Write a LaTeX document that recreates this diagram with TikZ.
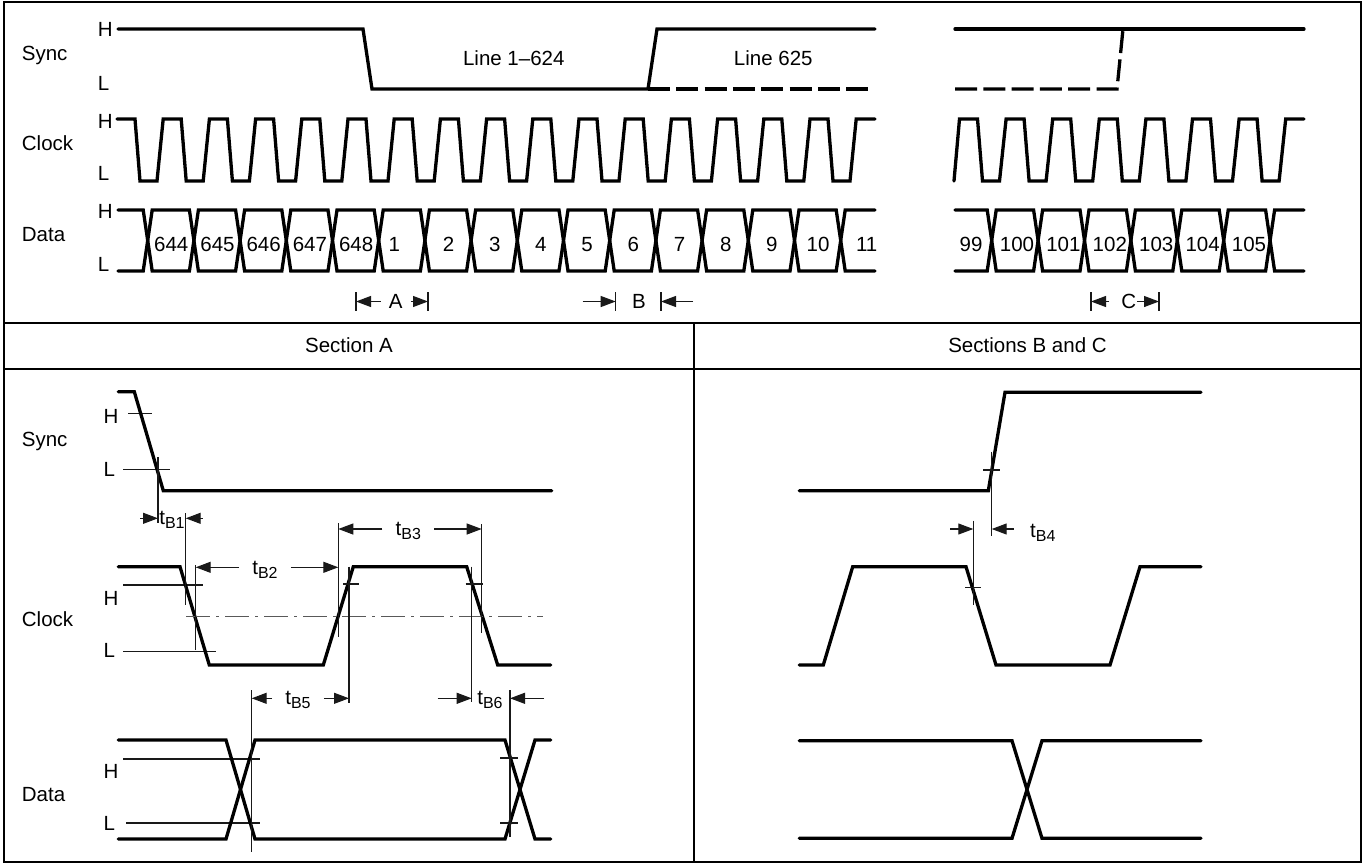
\documentclass[tikz,border=0pt]{standalone}
\usepackage{fontspec}
\setmainfont{Liberation Sans}
\usetikzlibrary{arrows.meta}
\newcommand{\tsub}[1]{t\raisebox{-0.32ex}{\fontsize{16}{18}\selectfont #1}}

\begin{document}
\begin{tikzpicture}[
    x=1pt, y=-1pt,
    wave/.style={line width=3.3pt, line join=miter, line cap=round},
    wavedash/.style={line width=3.3pt, line join=miter, dash pattern=on 22pt off 6.3pt},
    thin/.style={line width=1.1pt, black!90},
    frame/.style={line width=2.2pt},
    lbl/.style={font=\fontsize{20.5}{24}\selectfont, inner sep=0pt},
    dimtxt/.style={lbl, inner xsep=13pt},
    dim/.style={thin, -{Triangle[length=15pt, width=11pt]}},
    midline/.style={line width=1pt, black!65, dash pattern=on 24pt off 6pt on 3pt off 6pt},
]
    \useasboundingbox (0,0) rectangle (1363,863);
    % frame and table rules
    \draw[frame] (4,2) rectangle (1361,862);
    \draw[frame] (4,323) -- (1361,323);
    \draw[frame] (4,369) -- (1361,369);
    \draw[frame] (694,323) -- (694,862);
    \node[lbl, anchor=base] (hdA) at (349,352.5) {Section A};
    \node[lbl, anchor=base] (hdBC) at (1027.5,352.5) {Sections B and C};

    % overview: names and levels
    \foreach \sig/\y/\yh/\yl in {Sync/60/36/90, Clock/150/128.3/180, Data/241.7/218.3/271.7} {
        \node[lbl, anchor=base west] (top\sig) at (21.7,\y) {\sig};
        \node[lbl, anchor=base west] (top\sig H) at (97.7,\yh) {H};
        \node[lbl, anchor=base west] (top\sig L) at (97.7,\yl) {L};
    }

    % overview: sync
    \draw[wave] (118,29) -- (363,29) -- (372,89) -- (648,89) -- (657,29) -- (875,29);
    \draw[wavedash] (648,89) -- (868,89);
    \node[lbl, anchor=base] (line1) at (513.8,65) {Line 1--624};
    \node[lbl, anchor=base] (line625) at (773.3,65) {Line 625};
    \draw[wave] (955,29) -- (1304,29);
    \draw[wavedash] (955,89) -- (1117,89) -- (1123,29);

    % overview: clock
    \draw[wave] (117,119) \foreach \k in {0,...,15} { -- ++(18,0) -- ++(5,62) -- ++(17,0) -- ++(6.2,-62) } -- (875,119);
    \draw[wave] (954,181) -- (959.5,119) \foreach \k in {0,...,6} { -- ++(18,0) -- ++(5,62) -- ++(17,0) -- ++(6.6,-62) } -- (1304,119);

    % overview: data
    \foreach \ya/\yb in {210/271, 271/210} {
        \draw[wave] (118,\ya) \foreach \k in {0,2,...,14} { -- (143.2+46.2*\k,\ya) -- (152.2+46.2*\k,\yb) -- (189.4+46.2*\k,\yb) -- (198.4+46.2*\k,\ya) } -- (875,\ya);
        \draw[wave] (955,\ya) \foreach \k in {0,2,4} { -- (987.2+46.4*\k,\ya) -- (996.2+46.4*\k,\yb) -- (1033.6+46.4*\k,\yb) -- (1042.6+46.4*\k,\ya) } -- (1265.6,\ya) -- (1274.6,\yb) -- (1304,\yb);
    }
    \foreach \t/\dx [count=\i from 0] in {644/0,645/0,646/0,647/0,648/0,1/-8,2/0,3/0,4/0,5/0,6/0,7/0,8/0,9/0,10/0}
        \node[lbl, anchor=base] (cell\i) at (171.3+46.2*\i+\dx,251.5) {\t};
    \node[lbl, anchor=base] (cell15) at (866.7,251.5) {11};
    \node[lbl, anchor=base] (cell99) at (971,251.5) {99};
    \foreach \t [count=\i from 0] in {100,...,105}
        \node[lbl, anchor=base] (cellr\i) at (1017+46.4*\i,251.5) {\t};

    % section markers
    \foreach \x/\nm in {356/aL, 428/aR, 615.7/bL, 661/bR, 1091/cL, 1159/cR} {
        \coordinate (\nm) at (\x,301.5);
        \draw[thin] (\x,292) -- (\x,311);
    }
    \node[lbl] (mA) at (395.8,301.5) {A};
    \node[lbl] (mB) at (639,301.5) {B};
    \node[lbl] (mC) at (1128.7,301.5) {C};
    \draw[dim] ([xshift=-8pt]mA.west) -- (aL);
    \draw[dim] ([xshift=8pt]mA.east) -- (aR);
    \draw[dim] ([xshift=-33pt]bL) -- (bL);
    \draw[dim] ([xshift=32pt]bR) -- (bR);
    \draw[dim] ([xshift=-12pt]mC.west) -- (cL);
    \draw[dim] ([xshift=1pt]mC.east) -- (cR);

    % section A: names and levels
    \foreach \sig/\y/\yh/\yl in {Sync/446.7/423.3/476, Clock/626.7/605/657.3, Data/801.7/778.3/830.7} {
        \node[lbl, anchor=base west] (a\sig) at (21.7,\y) {\sig};
        \node[lbl, anchor=base west] (a\sig H) at (103.3,\yh) {H};
        \node[lbl, anchor=base west] (a\sig L) at (103.3,\yl) {L};
    }
    \draw[thin] (128,413.3) -- (152,413.3);
    \draw[thin] (123,469.3) -- (170,469.3);
    \draw[thin] (123,585) -- (203,585);
    \draw[thin] (123,651.7) -- (216,651.7);
    \draw[thin] (123,759) -- (260,759);
    \draw[thin] (126,823) -- (260,823);

    % section A: waves
    \draw[wave] (118.3,391.7) -- (134.3,391.7) -- (163.3,490.7) -- (551.7,490.7);
    \draw[wave] (118.3,566.7) -- (180,566.7) -- (209.3,665) -- (323.3,665) -- (353.3,566.7)
        -- (466.7,566.7) -- (497.7,665) -- (550.7,665);
    \draw[wave] (118.3,740) -- (226,740) -- (255,839) -- (505,839) -- (535,740) -- (550.7,740);
    \draw[wave] (118.3,839) -- (226,839) -- (255,740) -- (505,740) -- (535,839) -- (550.7,839);
    \draw[midline] (186,616) -- (543.3,616);

    % section A: reference lines
    \draw[thin] (158,457) -- (158,523);
    \draw[thin] (185.7,513) -- (185.7,605);
    \draw[thin] (195.7,565) -- (195.7,650);
    \draw[thin] (338.3,523) -- (338.3,636.7);
    \draw[thin] (481.7,524) -- (481.7,633.3);
    \draw[thin] (349,566.7) -- (349,703);
    \draw[thin] (343.3,584) -- (359.3,584);
    \draw[thin] (471.7,566.7) -- (471.7,702);
    \draw[thin] (465.7,584) -- (482.7,584);
    \draw[thin] (251.7,690) -- (251.7,851.7);
    \draw[thin] (510,690) -- (510,836.7);
    \draw[thin] (500,758) -- (518.3,758);
    \draw[thin] (500,823) -- (518.3,823);

    % section A: timings
    \coordinate (b1l) at (158,518.3);
    \coordinate (b1r) at (185.7,518.3);
    \coordinate (b2l) at (195.7,567.3);
    \coordinate (b2r) at (338.3,567.3);
    \coordinate (b3l) at (338.3,529);
    \coordinate (b3r) at (481.7,529);
    \coordinate (b5l) at (251.7,698.3);
    \coordinate (b5r) at (349,698.3);
    \coordinate (b6l) at (471.7,698.3);
    \coordinate (b6r) at (510,698.3);
    \node[lbl] (tb1) at (172,520) {\tsub{B1}};
    \node[dimtxt] (tb2) at (265,570) {\tsub{B2}};
    \node[dimtxt] (tb3) at (408.3,531) {\tsub{B3}};
    \node[dimtxt] (tb5) at (298,700) {\tsub{B5}};
    \node[lbl] (tb6) at (490,700) {\tsub{B6}};
    \draw[dim] ([xshift=-18pt]b1l) -- (b1l);
    \draw[dim] ([xshift=17pt]b1r) -- (b1r);
    \draw[dim] (tb2.west |- b2l) -- (b2l);
    \draw[dim] (tb2.east |- b2r) -- (b2r);
    \draw[dim] (tb3.west |- b3l) -- (b3l);
    \draw[dim] (tb3.east |- b3r) -- (b3r);
    \draw[dim] (tb5.west |- b5l) -- (b5l);
    \draw[dim] (tb5.east |- b5r) -- (b5r);
    \draw[dim] ([xshift=-34pt]b6l) -- (b6l);
    \draw[dim] ([xshift=34pt]b6r) -- (b6r);

    % sections B and C
    \draw[wave] (799.3,490.7) -- (988.3,490.7) -- (1005,392.3) -- (1201,392.3);
    \draw[wave] (799.3,665) -- (823.3,665) -- (852.7,566.7) -- (966,566.7) -- (996,665)
        -- (1110,665) -- (1140,566.7) -- (1201,566.7);
    \draw[wave] (799.3,740.7) -- (1012,740.7) -- (1042,838.3) -- (1201,838.3);
    \draw[wave] (799.3,838.3) -- (1012,838.3) -- (1042,740.7) -- (1201,740.7);
    \draw[thin] (991.7,451.7) -- (991.7,536);
    \draw[thin] (983.3,470) -- (1000,470);
    \draw[thin] (973.3,520.7) -- (973.3,605);
    \draw[thin] (965,587.7) -- (980.7,587.7);
    \coordinate (b4l) at (973.3,529);
    \coordinate (b4r) at (991.7,529);
    \node[lbl, anchor=west] (tb4) at (1030,533) {\tsub{B4}};
    \draw[dim] ([xshift=-23pt]b4l) -- (b4l);
    \draw[dim] ([xshift=22pt]b4r) -- (b4r);
\end{tikzpicture}
\end{document}
